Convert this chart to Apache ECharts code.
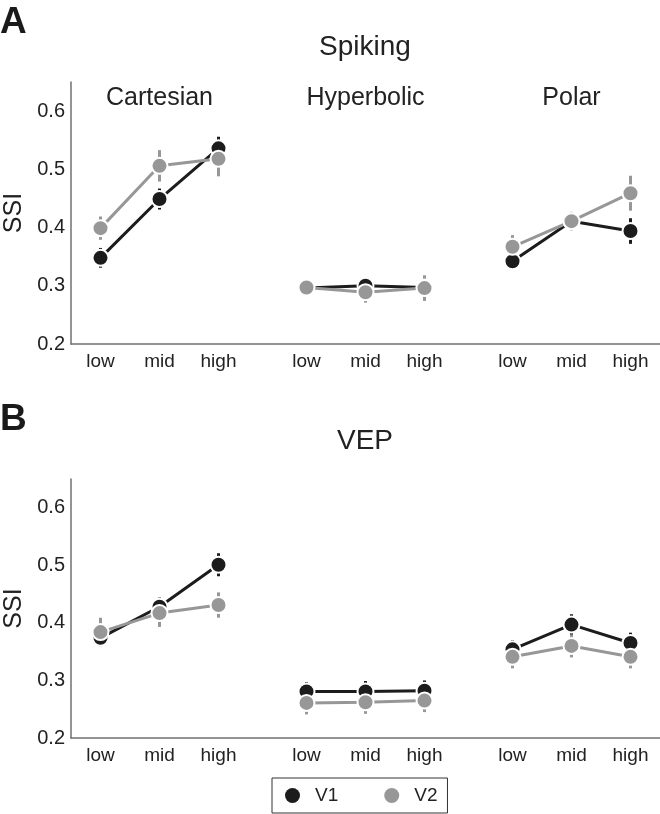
<!DOCTYPE html>
<html>
<head>
<meta charset="utf-8">
<script src="https://cdn.jsdelivr.net/npm/echarts@6/dist/echarts.min.js"></script>
<style>
  html, body { margin: 0; padding: 0; background: #fff; }
  #chart { width: 660px; height: 814px; }
</style>
</head>
<body>
<div id="chart"></div>
<script>
// categories
var levels = ['low', 'mid', 'high'];
var conditions = ['Cartesian', 'Hyperbolic', 'Polar'];
var seriesNames = ['V1', 'V2'];

// y axis ticks
var yMin = 0.2, yMax = 0.65, yStep = 0.1;

// panel A: spiking SSI (rows: Cartesian, Hyperbolic, Polar; cols: low, mid, high)
var spikingV1 = [[0.348, 0.449, 0.536], [0.296, 0.300, 0.297], [0.342, 0.411, 0.394]];
var spikingV2 = [[0.399, 0.506, 0.518], [0.297, 0.289, 0.296], [0.367, 0.411, 0.459]];
var spikingV1Err = [[0.017, 0.018, 0.02], [0.012, 0.014, 0.012], [0.014, 0.015, 0.022]];
var spikingV2Err = [[0.02, 0.027, 0.03], [0.012, 0.018, 0.022], [0.02, 0.016, 0.03]];

// panel B: VEP SSI
var vepV1 = [[0.374, 0.428, 0.501], [0.281, 0.281, 0.282], [0.354, 0.397, 0.365]];
var vepV2 = [[0.384, 0.417, 0.431], [0.261, 0.262, 0.265], [0.341, 0.360, 0.341]];
var vepV1Err = [[0.014, 0.016, 0.02], [0.016, 0.018, 0.018], [0.016, 0.018, 0.018]];
var vepV2Err = [[0.025, 0.024, 0.022], [0.02, 0.02, 0.02], [0.02, 0.02, 0.02]];

var panels = [
  { letter: 'A', title: 'Spiking', means: [spikingV1, spikingV2], errs: [spikingV1Err, spikingV2Err] },
  { letter: 'B', title: 'VEP', means: [vepV1, vepV2], errs: [vepV1Err, vepV2Err] }
];

// layout
var font = '"Liberation Sans", Arial, Helvetica, sans-serif';
var textColor = '#222';
var axisColor = '#707070';
var colors = ['#1c1c1c', '#979797'];
var panelTop = [82, 479];
var panelHeight = [262, 259];
var letterTop = [4, 401];
var titleTop = [33, 427];
var groupLeft = [71, 277, 483];
var groupWidth = 177;
var groupCenter = [159.5, 365.5, 571.5];

var option = {
  animation: false,
  backgroundColor: '#fff',
  textStyle: { fontFamily: font },
  title: [],
  grid: [],
  xAxis: [],
  yAxis: [],
  series: [],
  legend: {
    data: seriesNames,
    left: 272,
    top: 778,
    icon: 'circle',
    itemWidth: 15,
    itemHeight: 15,
    itemGap: 46,
    padding: [8, 10, 8, 13],
    borderColor: '#333',
    borderWidth: 1,
    itemStyle: { borderWidth: 0 },
    textStyle: { fontSize: 19, color: textColor, padding: [0, 0, 0, 10] }
  }
};

function errRender(color) {
  return function (params, api) {
    var x = api.value(0);
    var lo = api.coord([x, api.value(1)]);
    var hi = api.coord([x, api.value(2)]);
    return {
      type: 'line',
      shape: { x1: lo[0], y1: lo[1], x2: hi[0], y2: hi[1] },
      style: { stroke: color, lineWidth: 3 }
    };
  };
}

panels.forEach(function (p, pi) {
  option.title.push({
    text: p.letter, left: 0, top: letterTop[pi], padding: 0,
    textStyle: { fontSize: 37, fontWeight: 'bold', color: '#1a1a1a', fontFamily: font }
  });
  option.title.push({
    text: p.title, left: 365, top: titleTop[pi], padding: 0, textAlign: 'center',
    textStyle: { fontSize: 28, fontWeight: 'normal', color: textColor, fontFamily: font }
  });

  // frame grid: carries the y axis and the continuous x axis line
  var fi = option.grid.length;
  option.grid.push({ left: 71, width: 589, top: panelTop[pi], height: panelHeight[pi], outerBoundsMode: 'none' });
  option.xAxis.push({
    type: 'value', gridIndex: fi, min: 0, max: 1,
    axisLine: { show: true, onZero: false, lineStyle: { color: axisColor, width: 1.5 } },
    axisTick: { show: false }, axisLabel: { show: false }, splitLine: { show: false }
  });
  option.yAxis.push({
    type: 'value', gridIndex: fi, min: yMin, max: yMax, interval: yStep,
    axisLine: { show: true, onZero: false, lineStyle: { color: axisColor, width: 1.5 } },
    axisTick: { show: false }, splitLine: { show: false },
    axisLabel: { fontSize: 20, color: textColor, margin: 6, showMaxLabel: false,
      formatter: function (v) { return v.toFixed(1); } },
    name: 'SSI', nameLocation: 'middle', nameGap: 42,
    nameTextStyle: { fontSize: 25, color: textColor }
  });

  conditions.forEach(function (c, ci) {
    if (pi === 0) {
      option.title.push({
        text: c, left: groupCenter[ci], top: 86, padding: 0, textAlign: 'center',
        textStyle: { fontSize: 25, fontWeight: 'normal', color: textColor, fontFamily: font }
      });
    }
    var gi = option.grid.length;
    option.grid.push({ left: groupLeft[ci], width: groupWidth, top: panelTop[pi], height: panelHeight[pi], outerBoundsMode: 'none' });
    option.xAxis.push({
      type: 'category', gridIndex: gi, data: levels,
      axisLine: { show: false }, axisTick: { show: false },
      axisLabel: { fontSize: 19, color: textColor, margin: 8 }
    });
    option.yAxis.push({ type: 'value', gridIndex: gi, min: yMin, max: yMax, show: false });

    seriesNames.forEach(function (name, si) {
      var means = p.means[si][ci];
      var errs = p.errs[si][ci];
      option.series.push({
        type: 'custom',
        name: name + ' err',
        xAxisIndex: gi, yAxisIndex: gi,
        z: 1,
        renderItem: errRender(colors[si]),
        encode: { x: 0, y: [1, 2] },
        data: means.map(function (m, j) { return [j, m - errs[j], m + errs[j]]; })
      });
      option.series.push({
        type: 'line',
        name: name,
        xAxisIndex: gi, yAxisIndex: gi,
        z: 2 + si,
        data: means,
        symbol: 'circle',
        symbolSize: 16,
        lineStyle: { color: colors[si], width: 3 },
        itemStyle: { color: colors[si], borderColor: '#fff', borderWidth: 2 }
      });
    });
  });
});

var chart = echarts.init(document.getElementById('chart'), null, { renderer: 'canvas' });
chart.setOption(option);
</script>
</body>
</html>
